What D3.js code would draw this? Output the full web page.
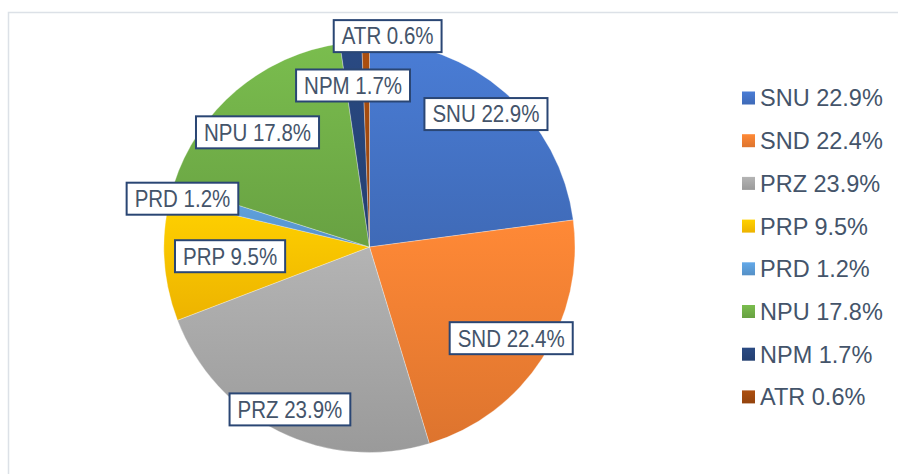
<!DOCTYPE html>
<html>
<head>
<meta charset="utf-8">
<script src="https://cdn.jsdelivr.net/npm/d3@7"></script>
<style>
  body { margin: 0; background: #fff; }
  text { font-family: "Liberation Sans", Arial, sans-serif; }
</style>
</head>
<body>
<div id="chart"></div>
<script>
// datos
const categories = ["SNU", "SND", "PRZ", "PRP", "PRD", "NPU", "NPM", "ATR"];
const values = [22.9, 22.4, 23.9, 9.5, 1.2, 17.8, 1.7, 0.6];
const colors = ["#4472C4", "#ED7D31", "#A5A5A5", "#FFC000", "#5B9BD5", "#70AD47", "#264478", "#9E480E"];

// colocacion de etiquetas: fraccion del radio y desplazamiento de angulo (grados)
const labelRadius = [0.86, 0.82, 0.88, 0.68, 0.94, 0.78, 0.79, 1.03];
const labelShift = [0, 0, 0, 0, -1, -4, -0.6, 6];

const WIDTH = 898;
const HEIGHT = 474;
const CX = 369.5, CY = 247, R = 205.5;

const svg = d3.select("#chart").append("svg")
  .attr("width", WIDTH)
  .attr("height", HEIGHT);

// marco del grafico
svg.append("rect")
  .attr("x", 8.5).attr("y", 12.5)
  .attr("width", WIDTH + 20).attr("height", HEIGHT + 20)
  .attr("fill", "none")
  .attr("stroke", "#dce1e7")
  .attr("stroke-width", 1.5);

// degradados verticales como en Excel
const defs = svg.append("defs");
colors.forEach((c, i) => {
  const g = defs.append("linearGradient")
    .attr("id", "grad" + i)
    .attr("x1", 0).attr("y1", 0).attr("x2", 0).attr("y2", 1);
  g.append("stop").attr("offset", "0%").attr("stop-color", d3.color(c).brighter(0.25));
  g.append("stop").attr("offset", "100%").attr("stop-color", d3.color(c).darker(0.2));
});

const data = categories.map((name, i) => ({ name, value: values[i], i }));

const pie = d3.pie().value(d => d.value).sort(null);
const arc = d3.arc().innerRadius(0).outerRadius(R);
const arcs = pie(data);

const pieG = svg.append("g").attr("transform", `translate(${CX}, ${CY})`);

pieG.selectAll("path")
  .data(arcs)
  .enter()
  .append("path")
  .attr("d", arc)
  .attr("fill", d => `url(#grad${d.data.i})`)
  .attr("stroke", "#fff")
  .attr("stroke-width", 0.5)
  .attr("stroke-opacity", 0.6);

// etiquetas con caja
const labels = pieG.selectAll("g.label")
  .data(arcs)
  .enter()
  .append("g")
  .attr("class", "label")
  .attr("transform", d => {
    const a = (d.startAngle + d.endAngle) / 2 + labelShift[d.data.i] * Math.PI / 180;
    const r = R * labelRadius[d.data.i];
    return `translate(${r * Math.sin(a)}, ${-r * Math.cos(a)})`;
  });

labels.append("text")
  .attr("text-anchor", "middle")
  .attr("dy", "0.36em")
  .attr("font-size", 20.5)
  .attr("transform", "scale(1, 1.13)")
  .attr("fill", "#44546A")
  .text(d => `${d.data.name} ${d.data.value.toFixed(1)}%`);

labels.each(function () {
  const g = d3.select(this);
  const bb = g.select("text").node().getBBox();
  g.insert("rect", "text")
    .attr("x", bb.x - 8)
    .attr("y", -16)
    .attr("width", bb.width + 16)
    .attr("height", 32)
    .attr("fill", "#fff")
    .attr("stroke", "#2A4674")
    .attr("stroke-width", 2);
});

// leyenda
const legend = svg.append("g").attr("transform", "translate(742, 98)");
const rows = legend.selectAll("g")
  .data(data)
  .enter()
  .append("g")
  .attr("transform", (d, i) => `translate(0, ${i * 42.7})`);

rows.append("rect")
  .attr("x", 0).attr("y", -6.5)
  .attr("width", 13).attr("height", 13)
  .attr("fill", d => `url(#grad${d.i})`);

rows.append("text")
  .attr("x", 18)
  .attr("dy", "0.36em")
  .attr("font-size", 23.5)
  .attr("fill", "#44546A")
  .text(d => `${d.name} ${d.value.toFixed(1)}%`);
</script>
</body>
</html>
